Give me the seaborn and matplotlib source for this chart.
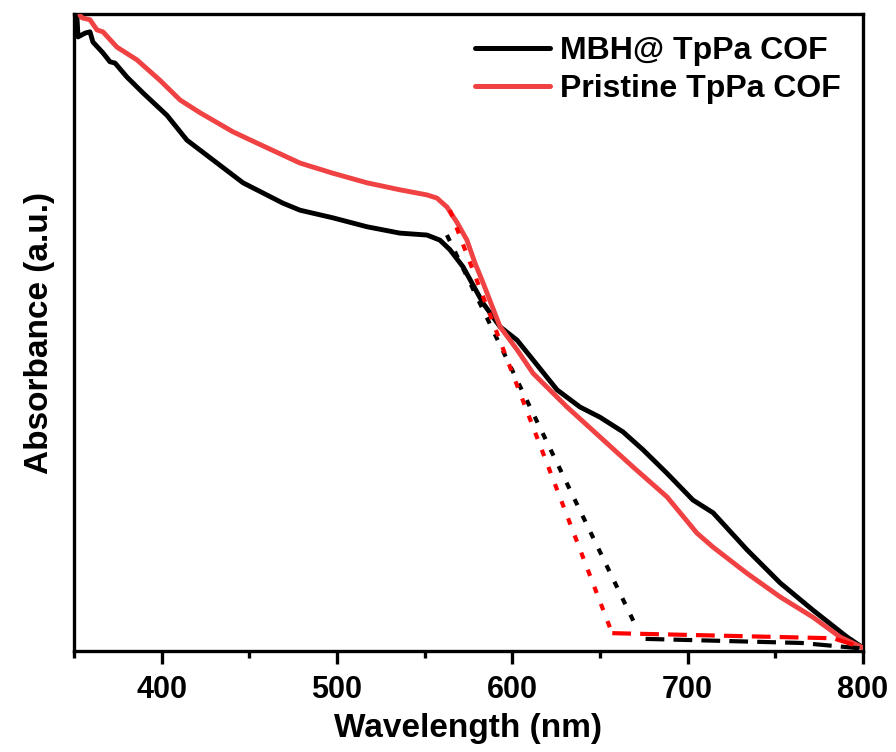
import numpy as np
import pandas as pd
import matplotlib
matplotlib.use("Agg")
import matplotlib.pyplot as plt
import seaborn as sns
from matplotlib.ticker import MultipleLocator, NullLocator, FixedLocator
from matplotlib.lines import Line2D

# ---- data ----
mbh_wl = [350.0, 351.7, 352.3, 356.3, 359.1, 360.8, 366.5, 370.5, 373.4, 380.2,
          389.4, 403.0, 414.4, 431.6, 446.4, 469.2, 478.9, 497.7, 517.1, 535.9,
          551.3, 558.7, 564.4, 571.9, 583.3, 593.0, 602.7, 611.8, 625.5, 638.6,
          650.0, 663.1, 674.5, 688.2, 703.0, 714.5, 733.8, 752.7, 771.5, 790.9, 800.0]
mbh_abs = [0.994, 0.995, 0.964, 0.970, 0.972, 0.956, 0.939, 0.925, 0.923, 0.901,
           0.876, 0.841, 0.802, 0.766, 0.735, 0.703, 0.692, 0.680, 0.666, 0.656,
           0.653, 0.645, 0.630, 0.603, 0.546, 0.509, 0.488, 0.457, 0.410, 0.383,
           0.367, 0.344, 0.316, 0.279, 0.237, 0.217, 0.159, 0.107, 0.064, 0.022, 0.005]

pri_wl = [353.4, 354.6, 359.1, 363.1, 366.5, 374.5, 385.9, 399.0, 410.5, 421.9,
          440.7, 460.1, 478.9, 497.7, 517.1, 535.9, 551.3, 557.0, 562.7, 568.4,
          574.1, 578.7, 583.3, 593.0, 602.7, 611.8, 631.2, 650.0, 668.8, 688.2,
          705.3, 714.5, 733.8, 752.7, 771.5, 786.9, 800.0]
pri_abs = [0.998, 0.994, 0.991, 0.975, 0.972, 0.948, 0.928, 0.896, 0.865, 0.845,
           0.815, 0.790, 0.766, 0.750, 0.735, 0.724, 0.716, 0.711, 0.697, 0.673,
           0.645, 0.609, 0.578, 0.509, 0.473, 0.436, 0.383, 0.336, 0.289, 0.242,
           0.185, 0.163, 0.122, 0.085, 0.053, 0.022, 0.005]

# tangent (band-edge extrapolation) lines
mbh_tan_wl = [562.7, 671.0]
mbh_tan_abs = [0.653, 0.036]
mbh_base_wl = [676.0, 765.0, 799.0]
mbh_base_abs = [0.019, 0.0126, 0.004]

pri_tan_wl = [564.4, 656.9]
pri_tan_abs = [0.692, 0.028]
pri_base_wl = [657.0, 783.0, 799.0]
pri_base_abs = [0.028, 0.020, 0.006]

labels = ["MBH@ TpPa COF", "Pristine TpPa COF"]
x_ticks = [400, 500, 600, 700, 800]

# ---- style ----
sns.set_theme(style="white")
plt.rcParams["font.family"] = ["Liberation Sans", "DejaVu Sans"]
plt.rcParams["font.weight"] = "bold"
plt.rcParams["text.color"] = "black"
plt.rcParams["axes.labelcolor"] = "black"
plt.rcParams["xtick.color"] = "black"
plt.rcParams["ytick.color"] = "black"

BLACK = "#000000"
RED = "#F04242"
DRED = "#FF0000"

fig = plt.figure(figsize=(8.96, 7.52), dpi=100)
ax = fig.add_axes([74 / 896, 1 - 651 / 752, (863 - 74) / 896, (651 - 14) / 752])

df = pd.concat([
    pd.DataFrame({"wl": mbh_wl, "a": mbh_abs, "s": labels[0]}),
    pd.DataFrame({"wl": pri_wl, "a": pri_abs, "s": labels[1]}),
])
sns.lineplot(data=df, x="wl", y="a", hue="s", palette=[BLACK, RED],
             linewidth=3.5, ax=ax, sort=False, legend=False, zorder=3)

# dashed tangent lines
for wl, ab, col, dash in [
    (mbh_tan_wl, mbh_tan_abs, BLACK, (1.6, 2.8)),
    (pri_tan_wl, pri_tan_abs, DRED, (1.6, 2.8)),
    (mbh_base_wl, mbh_base_abs, BLACK, (4.5, 2.2)),
    (pri_base_wl, pri_base_abs, DRED, (4.5, 2.2)),
]:
    sns.lineplot(x=wl, y=ab, color=col, linewidth=3.0, ax=ax, sort=False,
                 dashes=False, zorder=4)
    ax.lines[-1].set_dashes(dash)

ax.set_xlim(350, 800)
ax.set_ylim(0, 1.0)
ax.xaxis.set_major_locator(FixedLocator(x_ticks))
ax.xaxis.set_minor_locator(MultipleLocator(50))
ax.yaxis.set_major_locator(NullLocator())
ax.tick_params(axis="x", which="major", direction="out", length=9, width=2.4,
               labelsize=22, pad=8, bottom=True, top=False, color="black",
               labelcolor="black")
ax.tick_params(axis="x", which="minor", direction="out", length=5, width=2.4,
               bottom=True, top=False, color="black")
for lab in ax.get_xticklabels():
    lab.set_fontweight("bold")
for sp in ax.spines.values():
    sp.set_visible(True)
    sp.set_linewidth(2.4)
    sp.set_color("black")

ax.set_xlabel("Wavelength (nm)", fontsize=24, fontweight="bold", labelpad=6,
              color="black")
ax.set_ylabel("Absorbance (a.u.)", fontsize=24, fontweight="bold", labelpad=14,
              color="black")

handles = [Line2D([0], [0], color=BLACK, lw=3.6),
           Line2D([0], [0], color=RED, lw=3.6)]
leg = ax.legend(handles, labels, loc="upper right", frameon=False,
                prop={"weight": "bold", "size": 23}, handlelength=2.35,
                handletextpad=0.3, labelspacing=0.25,
                bbox_to_anchor=(1.0, 1.0), borderaxespad=0.3)
for t in leg.get_texts():
    t.set_color("black")

fig.savefig("out.png", dpi=100)
